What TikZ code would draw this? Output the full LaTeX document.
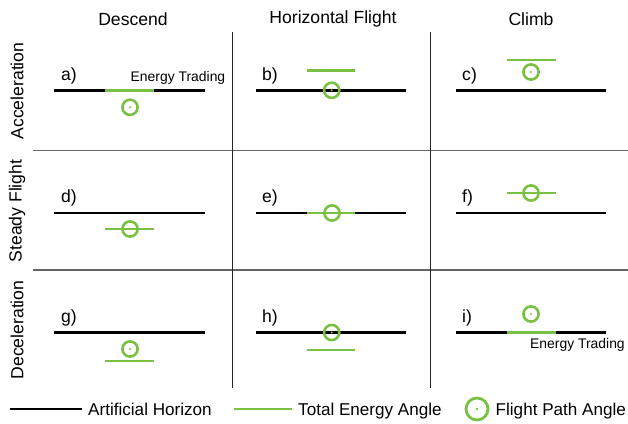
\documentclass[tikz,border=0pt]{standalone}
\usepackage{fontspec}
\setmainfont{Liberation Sans}
\definecolor{fgreen}{RGB}{122,192,67}
\definecolor{gridgray}{RGB}{100,100,100}
\begin{document}
\begin{tikzpicture}[x=1pt,y=-1pt,
  horizon/.style={line width=2.6pt,black},
  tea/.style={line width=2.6pt,fgreen},
  grid/.style={line width=1.2pt,gridgray},
  vgrid/.style={line width=1pt,black!85},
  txt/.style={font=\fontsize{17.6}{20}\selectfont,inner sep=0pt},
  legtxt/.style={font=\fontsize{17.1}{20}\selectfont,inner sep=0pt,anchor=base west},
  small/.style={font=\fontsize{13.9}{16}\selectfont,inner sep=0pt},
  lbl/.style={txt,anchor=base west}]
\useasboundingbox (0,0) rectangle (628,423);
% grid
\coordinate (g1a) at (33,150.5); \coordinate (g1b) at (628,150.5);
\coordinate (g2a) at (33,270); \coordinate (g2b) at (628,270);
\coordinate (v1a) at (232,32); \coordinate (v1b) at (232,388);
\coordinate (v2a) at (430,32); \coordinate (v2b) at (430,388);
\draw[grid] (g1a) -- (g1b);
\draw[grid] (g2a) -- (g2b);
\draw[vgrid] (v1a) -- (v1b);
\draw[vgrid] (v2a) -- (v2b);
% headers
\node[txt] (hdesc) at (133,19) {Descend};
\node[txt] (hhor) at (333,19) {Horizontal Flight};
\node[txt] (hclimb) at (531,19) {Climb};
\node[txt,rotate=90] (racc) at (17,91) {Acceleration};
\node[txt,rotate=90] (rsteady) at (17,211) {Steady Flight};
\node[txt,rotate=90] (rdec) at (17,330) {Deceleration};
% panel labels
\node[lbl] (la) at (61,80) {a)};
\node[lbl] (lb) at (262,80) {b)};
\node[lbl] (lc) at (462,80) {c)};
\node[lbl] (ld) at (61,202) {d)};
\node[lbl] (le) at (262,202) {e)};
\node[lbl] (lf) at (462,202) {f)};
\node[lbl] (lg) at (61,322) {g)};
\node[lbl] (lh) at (262,322) {h)};
\node[lbl] (li) at (462,322) {i)};
\node[small,anchor=base west] (eta) at (130.5,81) {Energy Trading};
\node[small,anchor=base west] (eti) at (530,348) {Energy Trading};
% horizons
\foreach \r/\y in {1/90.7,2/213,3/332.5}{
  \draw[horizon] (54,\y) -- (205,\y);
  \draw[horizon] (256,\y) -- (406,\y);
  \draw[horizon] (456,\y) -- (606,\y);
}
% total energy angle lines
\draw[tea] (105,90.7) -- (154,90.7);
\draw[tea] (307,70.3) -- (355,70.3);
\draw[tea] (507,60) -- (556,60);
\draw[tea] (105,229) -- (154,229);
\draw[tea] (307,213) -- (355,213);
\draw[tea] (507,193) -- (556,193);
\draw[tea] (105,361) -- (154,361);
\draw[tea] (307,350) -- (355,350);
\draw[tea] (507,332.5) -- (556,332.5);
% flight path angle symbols
\foreach \n/\x/\y in {a/130/107.3,b/331.7/90.3,c/531/72,d/130/229,e/332/213,f/531/193,g/130/349,h/331.7/332.5,i/531/314}{
  \draw[line width=2.6pt,fgreen] (\x,\y) circle[radius=7.6];
  \fill[fgreen] (\x,\y) circle[radius=1.1];
}
% legend
\draw[horizon] (10,409) -- (82,409);
\node[legtxt] (lah) at (88,415) {Artificial Horizon};
\draw[tea] (234,409) -- (292,409);
\node[legtxt] (lte) at (298,415) {Total Energy Angle};
\draw[line width=2.8pt,fgreen] (477,409) circle[radius=11];
\fill[fgreen] (477,409) circle[radius=1.3];
\node[legtxt] (lfp) at (495.5,415) {Flight Path Angle};
\end{tikzpicture}
\end{document}
